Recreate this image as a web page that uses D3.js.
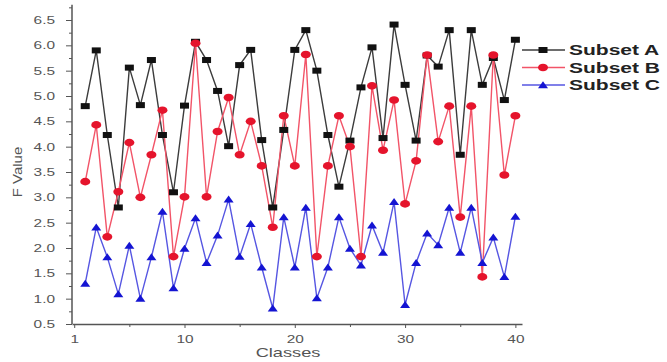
<!DOCTYPE html>
<html>
<head>
<meta charset="utf-8">
<script src="https://cdn.jsdelivr.net/npm/d3@7"></script>
<style>
  body { margin: 0; background: #fff; }
  svg { font-family: Arial, "Liberation Sans", sans-serif; }
</style>
</head>
<body>
<script>
const classes = [1,2,3,4,5,6,7,8,9,10,11,12,13,14,15,16,17,18,19,20,
                 21,22,23,24,25,26,27,28,29,30,31,32,33,34,35,36,37,38,39,40];
const subsetA = [4.8,5.9,4.23,2.8,5.56,4.82,5.71,4.23,3.1,4.81,6.07,5.71,5.1,4.01,5.61,5.91,4.13,2.8,4.33,5.91,
                 6.3,5.5,4.23,3.21,4.12,5.17,5.96,4.17,6.41,5.22,4.12,5.8,5.58,6.3,3.84,6.3,5.22,5.75,4.92,6.11];
const subsetB = [3.31,4.43,2.22,3.11,4.08,3.0,3.84,4.72,1.83,3.01,6.04,3.01,4.3,4.97,3.84,4.5,3.62,2.41,4.61,3.62,
                 5.82,1.83,3.62,4.61,4.0,1.83,5.2,3.93,4.92,2.87,3.72,5.81,4.1,4.8,2.61,4.8,1.43,5.81,3.44,4.61];
const subsetC = [1.3,2.41,1.82,1.09,2.05,1.0,1.82,2.72,1.21,1.99,2.59,1.71,2.25,2.96,1.83,2.48,1.62,0.81,2.61,1.62,
                 2.8,1.01,1.62,2.61,1.99,1.66,2.45,1.91,2.91,0.88,1.71,2.29,2.06,2.8,1.91,2.8,1.71,2.21,1.43,2.62];
const seriesNames = ["Subset A", "Subset B", "Subset C"];
const yTicks = [0.5,1.0,1.5,2.0,2.5,3.0,3.5,4.0,4.5,5.0,5.5,6.0,6.5];
const yMinorTicks = [0.75,1.25,1.75,2.25,2.75,3.25,3.75,4.25,4.75,5.25,5.75,6.25,6.75];
const xTicks = [0,10,20,30,40];
const xTickLabels = ["1","10","20","30","40"];
const xMinorTicks = [5,15,25,35];

const width = 667, height = 362;
const stretch = 1.4; // the picture is squeezed wide, so text is too

const svg = d3.select("body").append("svg")
  .attr("width", width)
  .attr("height", height);

const x = d3.scaleLinear().domain([-0.2, 40.6]).range([72, 522]);
const y = d3.scaleLinear().domain([0.5, 6.5]).range([324, 20]);

const series = [
  { name: seriesNames[0], values: subsetA, line: "#3c3c3c", fill: "#111", shape: "square" },
  { name: seriesNames[1], values: subsetB, line: "#f25468", fill: "#e5142c", shape: "circle" },
  { name: seriesNames[2], values: subsetC, line: "#5656e2", fill: "#1414d2", shape: "triangle" }
];

function widen(sel, k = stretch) {
  sel.each(function() {
    const w = this.getComputedTextLength();
    d3.select(this).attr("textLength", w * k).attr("lengthAdjust", "spacingAndGlyphs");
  });
}

// axes
const yAxis = svg.append("g")
  .attr("transform", "translate(72,0)")
  .call(d3.axisLeft(y).tickValues(yTicks).tickFormat(d3.format(".1f")).tickSize(6).tickPadding(11).tickSizeOuter(0));
yAxis.select(".domain").remove();
yAxis.selectAll("line").attr("stroke", "#555");
yAxis.selectAll("text").attr("font-size", 11).attr("fill", "#555").call(widen);

svg.append("g")
  .attr("transform", "translate(72,0)")
  .call(d3.axisLeft(y).tickValues(yMinorTicks).tickFormat("").tickSize(3))
  .call(g => g.select(".domain").remove())
  .selectAll("line").attr("stroke", "#555");

svg.append("line")
  .attr("x1", 72).attr("x2", 72)
  .attr("y1", y(6.8)).attr("y2", y(0.5))
  .attr("stroke", "#555").attr("stroke-width", 1.5);

const xAxis = svg.append("g")
  .attr("transform", "translate(0,324)")
  .call(d3.axisBottom(x).tickValues(xTicks).tickFormat((d, i) => xTickLabels[i]).tickSize(4).tickPadding(7).tickSizeOuter(0));
xAxis.select(".domain").attr("stroke", "#555").attr("stroke-width", 1.5);
xAxis.selectAll("line").attr("stroke", "#555");
xAxis.selectAll("text").attr("font-size", 11).attr("fill", "#555").call(widen);

svg.append("g")
  .attr("transform", "translate(0,324)")
  .call(d3.axisBottom(x).tickValues(xMinorTicks).tickFormat("").tickSize(3))
  .call(g => g.select(".domain").remove())
  .selectAll("line").attr("stroke", "#555");

// axis titles
svg.append("text")
  .attr("transform", "translate(22,172) rotate(-90)")
  .attr("text-anchor", "middle")
  .attr("font-size", 13)
  .attr("fill", "#555")
  .text("F Value")
  .call(widen, 1.15);

svg.append("text")
  .attr("x", 288).attr("y", 357)
  .attr("text-anchor", "middle")
  .attr("font-size", 13)
  .attr("fill", "#555")
  .text("Classes")
  .call(widen);

// markers
function drawMarker(g, shape, fill, cx, cy) {
  if (shape === "square") {
    g.append("rect").attr("x", cx - 4.5).attr("y", cy - 3).attr("width", 9).attr("height", 6).attr("fill", fill);
  } else if (shape === "circle") {
    g.append("ellipse").attr("cx", cx).attr("cy", cy).attr("rx", 5).attr("ry", 3.8).attr("fill", fill);
  } else {
    g.append("path").attr("d", `M${cx - 5},${cy + 3.2}L${cx + 5},${cy + 3.2}L${cx},${cy - 3.8}Z`).attr("fill", fill);
  }
}

const line = d3.line()
  .x((d, i) => x(classes[i]))
  .y(d => y(d));

series.forEach(s => {
  svg.append("path")
    .attr("d", line(s.values))
    .attr("fill", "none")
    .attr("stroke", s.line)
    .attr("stroke-width", 1.4);
});

series.forEach(s => {
  const g = svg.append("g");
  s.values.forEach((v, i) => drawMarker(g, s.shape, s.fill, x(classes[i]), y(v)));
});

// legend
const legend = svg.append("g");
series.forEach((s, i) => {
  const ly = 50 + i * 17.5;
  legend.append("line")
    .attr("x1", 522).attr("x2", 565)
    .attr("y1", ly).attr("y2", ly)
    .attr("stroke", s.line).attr("stroke-width", 1.4);
  drawMarker(legend, s.shape, s.fill, 543, ly);
  legend.append("text")
    .attr("x", 569).attr("y", ly + 5)
    .attr("font-size", 14)
    .attr("font-weight", "bold")
    .attr("fill", "#222")
    .text(s.name)
    .call(widen, 1.5);
});
</script>
</body>
</html>
